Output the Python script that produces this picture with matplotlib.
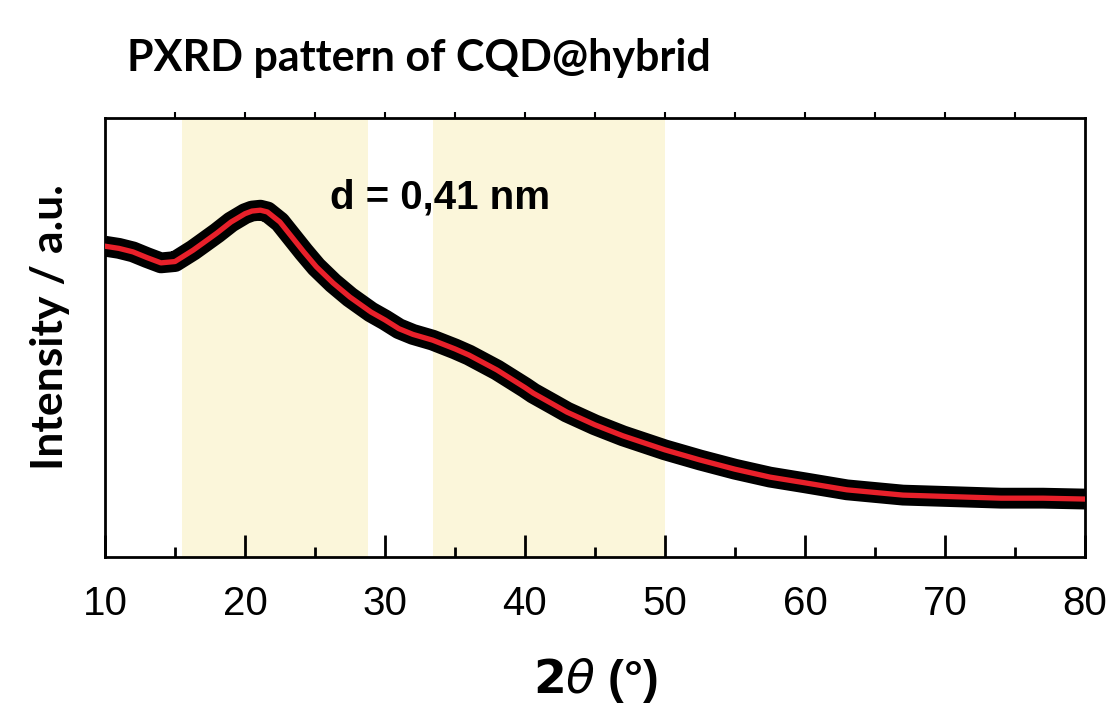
import matplotlib.pyplot as plt
from matplotlib.ticker import MultipleLocator

# PXRD pattern (2theta in degrees, intensity in a.u.)
two_theta = [10, 11, 12, 13, 14, 15, 15.5, 16.3, 17, 18, 19, 20, 20.5, 21.1, 21.6,
             22.5, 23.4, 24.2, 25.1, 26.3, 27.5, 29, 30, 31, 32, 33.4, 35, 36,
             38, 40, 40.6, 42, 43, 45, 47, 48.5, 50, 52.5, 55, 57.5, 60, 63, 67,
             70, 74, 77, 80]
intensity = [70.8, 70.3, 69.5, 68.2, 67.0, 67.3, 68.3, 69.9, 71.5, 73.8, 76.3,
             78.2, 78.8, 79.0, 78.6, 76.3, 72.7, 69.5, 66.1, 62.4, 59.2, 55.8,
             54.0, 52.0, 50.7, 49.4, 47.4, 46.0, 42.6, 38.6, 37.3, 34.8, 33.0,
             30.1, 27.6, 26.0, 24.4, 22.1, 20.0, 18.2, 16.9, 15.3, 14.1, 13.8,
             13.4, 13.4, 13.2]

# shaded regions
bands = [(15.5, 28.8), (33.4, 50.0)]
band_color = "#FBF6DA"

fig = plt.figure(figsize=(11.12, 7.04), dpi=100)
ax = fig.add_axes([0.0944, 0.2088, 0.8813, 0.6236])

for lo, hi in bands:
    ax.axvspan(lo, hi, color=band_color, lw=0, zorder=0)

ax.plot(two_theta, intensity, color="black", lw=15, solid_capstyle="butt",
        solid_joinstyle="round", zorder=2)
ax.plot(two_theta, intensity, color="#E8202A", lw=3.8, solid_joinstyle="round",
        zorder=3)

ax.set_xlim(10, 80)
ax.set_ylim(0, 100)

for s in ax.spines.values():
    s.set_linewidth(2)

ax.xaxis.set_major_locator(MultipleLocator(10))
ax.xaxis.set_minor_locator(MultipleLocator(5))
ax.tick_params(axis="x", which="major", direction="in", length=16, width=2,
               labelsize=29, pad=20, top=False)
ax.tick_params(axis="x", which="minor", direction="in", length=7, width=2,
               top=False)
ax.tick_params(axis="y", left=False, labelleft=False)
for lab in ax.get_xticklabels():
    lab.set_family("Liberation Sans")

# small ticks along the top spine every 5 degrees
top = ax.secondary_xaxis("top")
top.set_xticks(range(15, 80, 5))
top.tick_params(direction="out", length=4, width=1.5, labeltop=False)
top.spines["top"].set_visible(False)

ax.text(26.1, 82.0, "d = 0,41 nm", fontsize=29, fontweight="bold",
        family="Liberation Sans", va="center", ha="left", zorder=4)

ax.set_xlabel(r"$\mathbf{2}\mathit{\theta}$ (°)", fontsize=34,
              fontweight="bold", family="Liberation Sans", labelpad=24)
fig.text(0.045, 0.535, "Intensity / a.u.", rotation=90, fontsize=32,
         fontweight="bold", family="Lato", va="center", ha="center")
fig.text(0.114, 0.918, "PXRD pattern of CQD@hybrid", fontsize=31,
         fontweight="bold", family="Lato", va="center", ha="left")

fig.savefig("out.png", dpi=100)
